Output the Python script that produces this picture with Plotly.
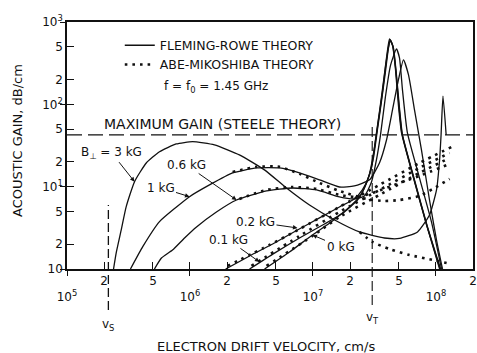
import math
import plotly.graph_objects as go

# ---------------- data (velocity cm/s, gain dB/cm) ----------------
# Fleming-Rowe theory (solid)
fr_3kG_v = [2.39e5, 2.51e5, 2.76e5, 3.03e5, 3.54e5, 4.41e5, 5.65e5, 7.72e5, 1.05e6, 1.58e6, 2.52e6,
            4.03e6, 6.09e6, 9.37e6, 1.50e7, 2.39e7, 3.81e7, 5.05e7, 7.08e7, 8.86e7, 1.01e8, 1.07e8,
            1.10e8, 1.14e8, 1.21e8]
fr_3kG_g = [1.0, 1.56, 2.98, 5.71, 11.5, 19.4, 26.6, 33.0, 35.2, 32.1, 24.3,
            16.0, 9.64, 5.99, 3.94, 2.82, 2.38, 2.35, 2.82, 4.53, 9.12, 21.1,
            42.5, 126, 42.5]

fr_1kG_v = [3.28e5, 4.13e5, 5.65e5, 7.72e5, 9.91e5, 1.44e6, 2.22e6, 3.48e6, 5.35e6, 7.77e6, 1.13e7,
            1.64e7, 2.17e7, 2.88e7, 3.47e7, 3.96e7, 4.43e7, 4.95e7, 5.44e7, 5.98e7, 6.69e7,
            7.62e7, 8.86e7, 1.01e8, 1.13e8]
fr_1kG_g = [1.0, 1.87, 3.76, 5.62, 7.56, 10.5, 14.7, 16.9, 16.9, 14.7, 12.1,
            9.91, 10.2, 12.1, 19.4, 36.9, 85.5, 198, 346, 228, 85.5,
            27.9, 6.89, 2.25, 1.0]

fr_06kG_v = [5.14e5, 5.86e5, 7.21e5, 9.03e5, 1.13e6, 1.64e6, 2.39e6, 4.19e6, 6.81e6, 1.07e7, 1.64e7,
             2.17e7, 2.62e7, 2.99e7, 3.28e7, 3.54e7, 3.88e7, 4.26e7, 4.77e7, 5.05e7, 5.34e7,
             5.86e7, 7.34e7, 9.19e7, 1.11e8]
fr_06kG_g = [1.0, 1.36, 1.70, 2.38, 3.24, 4.93, 6.89, 8.87, 9.64, 9.12, 7.50,
             7.09, 7.71, 11.4, 21.1, 42.5, 123, 293, 471, 366, 150,
             44.9, 12.8, 3.73, 1.0]

fr_02kG_v = [1.95e6, 3.05e6, 4.86e6, 7.48e6, 1.13e7, 1.64e7, 2.17e7, 2.52e7, 2.82e7, 3.10e7, 3.34e7,
             3.60e7, 3.88e7, 4.11e7, 4.26e7, 4.51e7, 4.77e7, 5.05e7, 5.34e7, 6.69e7, 8.53e7, 1.09e8]
fr_02kG_g = [1.0, 1.44, 2.07, 2.98, 4.17, 5.67, 7.09, 9.12, 12.8, 22.3, 48.9,
             107, 248, 485, 606, 485, 228, 90.4, 42.5, 12.1, 3.24, 1.0]

fr_01kG_v = [3.05e6, 4.86e6, 7.77e6, 1.24e7, 1.80e7, 2.30e7, 2.62e7, 2.88e7, 3.16e7, 3.41e7, 3.67e7,
             3.88e7, 4.11e7, 4.23e7, 4.47e7, 4.73e7, 5.00e7, 5.30e7, 6.62e7, 8.45e7, 1.08e8]
fr_01kG_g = [1.0, 1.56, 2.38, 3.52, 4.93, 6.89, 9.64, 14.3, 29.5, 64.6, 141,
             277, 498, 606, 498, 248, 95.6, 43.7, 12.4, 3.33, 1.0]

fr_0kG_v = [4.04e6, 6.44e6, 9.91e6, 1.44e7, 1.98e7, 2.39e7, 2.72e7, 2.99e7, 3.22e7, 3.47e7, 3.74e7,
            3.96e7, 4.19e7, 4.43e7, 4.69e7, 4.95e7, 5.25e7, 6.56e7, 8.38e7, 1.07e8]
fr_0kG_g = [1.0, 1.61, 2.59, 3.83, 5.67, 7.50, 11.1, 16.9, 36.9, 80.9, 187,
            366, 623, 527, 262, 98.4, 44.9, 12.8, 3.43, 1.0]

# Abe-Mikoshiba theory (dotted)
am_3kG_v = [2.39e7, 3.05e7, 4.19e7, 6.09e7, 9.37e7, 1.34e8]
am_3kG_g = [2.82, 2.13, 1.75, 1.48, 1.29, 1.15]

am_1kG_v = [2.22e6, 3.48e6, 5.35e6, 7.77e6, 1.13e7, 1.64e7, 2.72e7, 3.81e7, 5.05e7, 7.34e7, 9.72e7, 1.29e8]
am_1kG_g = [15.1, 17.4, 17.4, 14.3, 11.1, 8.87, 7.09, 6.70, 6.89, 7.71, 9.64, 12.4]

am_06kG_v = [2.52e6, 4.19e6, 6.81e6, 1.07e7, 1.64e7, 2.26e7, 3.05e7, 5.05e7, 7.34e7, 1.29e8]
am_06kG_g = [7.09, 9.12, 9.91, 9.38, 7.93, 7.50, 8.38, 11.1, 13.5, 18.9]

am_02kG_v = [2.02e6, 4.43e6, 7.77e6, 1.64e7, 3.47e7, 7.34e7, 1.34e8]
am_02kG_g = [1.09, 1.96, 3.06, 5.67, 10.5, 19.4, 30.4]

am_01kG_v = [3.16e6, 7.77e6, 1.64e7, 3.47e7, 7.34e7, 1.29e8]
am_01kG_g = [1.09, 2.52, 4.93, 9.12, 16.9, 25.7]

am_0kG_v = [4.19e6, 9.91e6, 1.64e7, 3.47e7, 7.34e7, 1.29e8]
am_0kG_g = [1.09, 2.52, 4.28, 7.93, 14.7, 22.3]

max_gain = 42.5      # dB/cm, Steele theory
v_s = 2.17e5         # cm/s
v_t = 3.03e7         # cm/s

x_tickvals = [1e5, 2e5, 5e5, 1e6, 2e6, 5e6, 1e7, 2e7, 5e7, 1e8, 2e8]
x_ticktext = ["<br>10<sup>5</sup>", "2", "5", "<br>10<sup>6</sup>", "2", "5",
              "<br>10<sup>7</sup>", "2", "5", "<br>10<sup>8</sup>", "2"]
y_tickvals = [1, 2, 5, 10, 20, 50, 100, 200, 500, 1000]
y_ticktext = ["10", "2", "5", "10<sup>1</sup>", "2", "5", "10<sup>2</sup>", "2", "5", "10<sup>3</sup>"]
decades_x = [1e5, 1e6, 1e7, 1e8]
decades_y = [1, 10, 100, 1000]

# label annotations: (text, velocity, gain, dx, dy)
labels = [
    ("B<sub>⊥</sub> = 3 kG", 3.54e5, 11.5, -23, -29),
    ("1 kG", 9.91e5, 7.56, -29, -9),
    ("0.6 kG", 2.39e6, 6.89, -50, -35),
    ("0.2 kG", 7.48e6, 3.15, -42, -6),
    ("0.1 kG", 3.67e6, 1.22, -31, -22),
    ("0 kG", 9.91e6, 2.59, 28, 12),
]

FONT = "DejaVu Sans"
INK = "#111111"

fig = go.Figure()

solid = [(fr_3kG_v, fr_3kG_g), (fr_1kG_v, fr_1kG_g), (fr_06kG_v, fr_06kG_g),
         (fr_02kG_v, fr_02kG_g), (fr_01kG_v, fr_01kG_g), (fr_0kG_v, fr_0kG_g)]
dotted = [(am_3kG_v, am_3kG_g), (am_1kG_v, am_1kG_g), (am_06kG_v, am_06kG_g),
          (am_02kG_v, am_02kG_g), (am_01kG_v, am_01kG_g), (am_0kG_v, am_0kG_g)]

for i, (v, g) in enumerate(solid):
    fig.add_trace(go.Scatter(x=v, y=g, mode="lines", name="FLEMING-ROWE THEORY",
                             showlegend=(i == 0), hoverinfo="skip",
                             line=dict(color=INK, width=1.3, shape="spline", smoothing=0.5)))
for i, (v, g) in enumerate(dotted):
    fig.add_trace(go.Scatter(x=v, y=g, mode="lines", name="ABE-MIKOSHIBA THEORY",
                             showlegend=(i == 0), hoverinfo="skip",
                             line=dict(color=INK, width=2.6, dash="2.6px,5px",
                                       shape="spline", smoothing=0.6)))

# dummy trace for crossing decade ticks
fig.add_trace(go.Scatter(x=[], y=[], xaxis="x2", yaxis="y2", showlegend=False, hoverinfo="skip"))

fig.add_shape(type="line", xref="paper", x0=0, x1=1, yref="y",
              y0=max_gain, y1=max_gain,
              line=dict(color=INK, width=1.3, dash="15px,6px"))
fig.add_shape(type="line", xref="x", x0=v_s, x1=v_s,
              yref="paper", y0=-0.166, y1=0.259,
              line=dict(color=INK, width=1.3, dash="9px,4px"))
fig.add_shape(type="line", xref="x", x0=v_t, x1=v_t,
              yref="paper", y0=-0.146, y1=0.58,
              line=dict(color=INK, width=1.1, dash="10px,4px"))

ann = []
for text, v, g, dx, dy in labels:
    ann.append(dict(x=math.log10(v), y=math.log10(g), xref="x", yref="y", text=text,
                    showarrow=True, ax=dx, ay=dy, arrowhead=2, arrowsize=0.9, arrowwidth=1,
                    arrowcolor=INK, font=dict(family=FONT, size=12, color=INK)))
ann.append(dict(xref="paper", yref="y", x=0.086, y=math.log10(max_gain), yanchor="bottom",
                xanchor="left", text="MAXIMUM GAIN (STEELE THEORY)", showarrow=False, yshift=1,
                font=dict(family=FONT, size=14, color=INK)))
ann.append(dict(xref="paper", yref="paper", x=0.233, y=0.738, xanchor="left", yanchor="middle",
                text="f = f<sub>0</sub> = 1.45 GHz", showarrow=False,
                font=dict(family=FONT, size=12, color=INK)))
ann.append(dict(xref="x", yref="paper", x=math.log10(v_s), y=-0.227, text="v<sub>S</sub>",
                xanchor="center", yanchor="middle",
                showarrow=False, font=dict(family=FONT, size=12, color=INK)))
ann.append(dict(xref="x", yref="paper", x=math.log10(v_t), y=-0.198, text="v<sub>T</sub>",
                xanchor="center", yanchor="middle",
                showarrow=False, font=dict(family=FONT, size=12, color=INK)))
ann.append(dict(xref="paper", yref="paper", x=0.49, y=-0.312, text="ELECTRON DRIFT VELOCITY, cm/s",
                xanchor="center", yanchor="middle",
                showarrow=False, font=dict(family=FONT, size=13, color=INK)))
ann.append(dict(xref="paper", yref="paper", x=-0.122, y=0.52, text="ACOUSTIC GAIN, dB/cm",
                xanchor="center", yanchor="middle",
                textangle=-90, showarrow=False, font=dict(family=FONT, size=13, color=INK)))

xr = [5, math.log10(2e8)]
yr = [0, 3]
fig.update_layout(
    width=477, height=353,
    margin=dict(l=67, r=4, t=22, b=84, autoexpand=False),
    paper_bgcolor="white", plot_bgcolor="white",
    font=dict(family=FONT, size=12, color=INK),
    showlegend=True,
    legend=dict(x=0.13, y=0.965, xanchor="left", yanchor="top", bgcolor="rgba(0,0,0,0)",
                font=dict(family=FONT, size=12.5, color=INK), itemwidth=30, tracegroupgap=0),
    annotations=ann,
    xaxis=dict(type="log", range=xr, tickvals=x_tickvals, ticktext=x_ticktext,
               ticks="inside", ticklen=7, tickwidth=1.3, tickcolor=INK, automargin=False,
               showline=True, linecolor=INK, linewidth=1.6, mirror=True,
               showgrid=False, zeroline=False, tickfont=dict(size=12)),
    yaxis=dict(type="log", range=yr, tickvals=y_tickvals, ticktext=y_ticktext,
               ticks="inside", ticklen=7, tickwidth=1.3, tickcolor=INK, automargin=False,
               showline=True, linecolor=INK, linewidth=1.6, mirror=True,
               showgrid=False, zeroline=False, tickfont=dict(size=12)),
    xaxis2=dict(type="log", range=xr, overlaying="x", anchor="y2", side="bottom",
                tickvals=decades_x, ticks="outside", ticklen=6, tickwidth=1.3, tickcolor=INK,
                showticklabels=False, showline=False, showgrid=False, zeroline=False,
                automargin=False),
    yaxis2=dict(type="log", range=yr, overlaying="y", anchor="x2", side="left",
                tickvals=decades_y, ticks="outside", ticklen=6, tickwidth=1.3, tickcolor=INK,
                showticklabels=False, showline=False, showgrid=False, zeroline=False,
                automargin=False),
)

fig.write_html("out.html", config={"displayModeBar": False},
               post_script="document.body.style.margin='0px';document.body.style.overflow='hidden';")
